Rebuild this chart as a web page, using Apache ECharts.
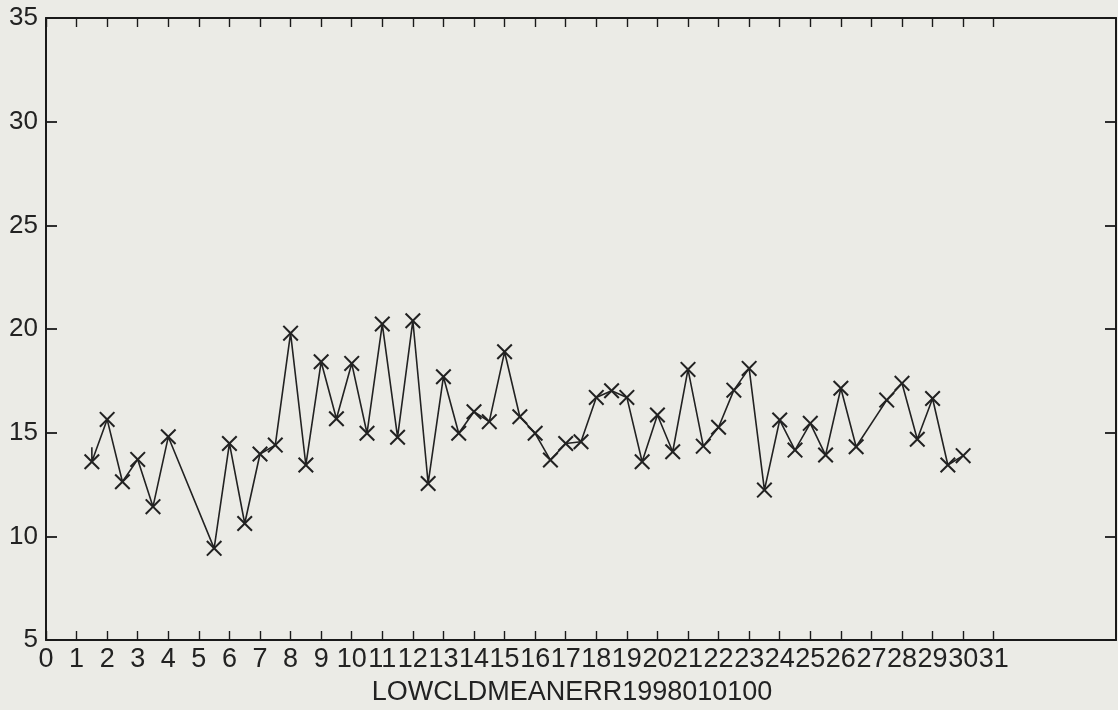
<!DOCTYPE html>
<html>
<head>
<meta charset="utf-8">
<script src="https://cdn.jsdelivr.net/npm/echarts@6/dist/echarts.min.js"></script>
<style>
html,body{margin:0;padding:0;background:#ebebe6;}
#chart{width:1118px;height:710px;}
</style>
</head>
<body>
<div id="chart"></div>
<script>
// x positions (days) and values
const dayX = [1.5,2,2.5,3,3.5,4,5.5,6,6.5,7,7.5,8,8.5,9,9.5,10,10.5,11,11.5,12,12.5,13,13.5,14,14.5,15,15.5,16,16.5,17,17.5,18,18.5,19,19.5,20,20.5,21,21.5,22,22.5,23,23.5,24,24.5,25,25.5,26,26.5,27.5,28,28.5,29,29.5,30];
const errVals = [13.6,15.64,12.63,13.71,11.43,14.8,9.42,14.48,10.62,13.97,14.4,19.8,13.44,18.42,15.67,18.34,14.97,20.24,14.78,20.4,12.55,17.7,14.97,16.01,15.53,18.9,15.77,14.97,13.68,14.48,14.56,16.7,17.02,16.7,13.6,15.85,14.08,18.05,14.35,15.26,17.05,18.1,12.23,15.61,14.16,15.45,13.92,17.14,14.32,16.57,17.38,14.68,16.65,13.44,13.89];
// short leading segment above first marker
const leadPoint = [1.5, 14.3];
const xTickLabels = Array.from({length: 32}, (_, i) => i);
const yTickValues = [5, 10, 15, 20, 25, 30, 35];
const xTitle = 'LOWCLDMEANERR1998010100';

const xMark = 'path://M0,9L9,0L50,41L91,0L100,9L59,50L100,91L91,100L50,59L9,100L0,91L41,50Z';

const seriesData = [{value: leadPoint, symbol: 'none'}].concat(
  dayX.map((x, i) => [x, errVals[i]])
);

const axisCol = '#1a1a1a';
const font = 'Liberation Sans, Arial, Helvetica, sans-serif';

const chart = echarts.init(document.getElementById('chart'), null, {renderer: 'canvas'});
chart.setOption({
  backgroundColor: '#ebebe6',
  animation: false,
  title: {
    text: xTitle,
    left: 567, top: 674, textAlign: 'center',
    textStyle: {fontFamily: font, fontSize: 27, fontWeight: 'normal', color: '#222'}
  },
  grid: {left: 46, right: 2, top: 18, bottom: 70, containLabel: false},
  xAxis: [
    {
      type: 'value', min: 0, max: 35, position: 'bottom',
      axisLine: {show: true, onZero: false, lineStyle: {color: axisCol, width: 2}},
      axisTick: {show: true, inside: true, length: 9, customValues: xTickLabels, lineStyle: {color: axisCol, width: 1.4}},
      axisLabel: {show: true, customValues: xTickLabels, margin: 6, fontFamily: font, fontSize: 27, color: '#222'},
      splitLine: {show: false}
    },
    {
      type: 'value', min: 0, max: 35, position: 'top',
      axisLine: {show: true, onZero: false, lineStyle: {color: axisCol, width: 2}},
      axisTick: {show: true, inside: true, length: 9, customValues: xTickLabels, lineStyle: {color: axisCol, width: 1.4}},
      axisLabel: {show: false},
      splitLine: {show: false}
    }
  ],
  yAxis: [
    {
      type: 'value', min: 5, max: 35, interval: 5, position: 'left',
      axisLine: {show: true, onZero: false, lineStyle: {color: axisCol, width: 2}},
      axisTick: {show: true, inside: true, length: 11, lineStyle: {color: axisCol, width: 1.8}},
      axisLabel: {show: true, margin: 8, fontFamily: font, fontSize: 26, color: '#222'},
      splitLine: {show: false}
    },
    {
      type: 'value', min: 5, max: 35, interval: 5, position: 'right',
      axisLine: {show: true, onZero: false, lineStyle: {color: axisCol, width: 2}},
      axisTick: {show: true, inside: true, length: 11, lineStyle: {color: axisCol, width: 1.8}},
      axisLabel: {show: false},
      splitLine: {show: false}
    }
  ],
  series: [{
    type: 'line',
    xAxisIndex: 0, yAxisIndex: 0,
    data: seriesData,
    symbol: xMark,
    symbolSize: 16,
    showAllSymbol: true,
    lineStyle: {color: '#222', width: 1.6},
    itemStyle: {color: '#222'}
  }]
});
</script>
</body>
</html>
